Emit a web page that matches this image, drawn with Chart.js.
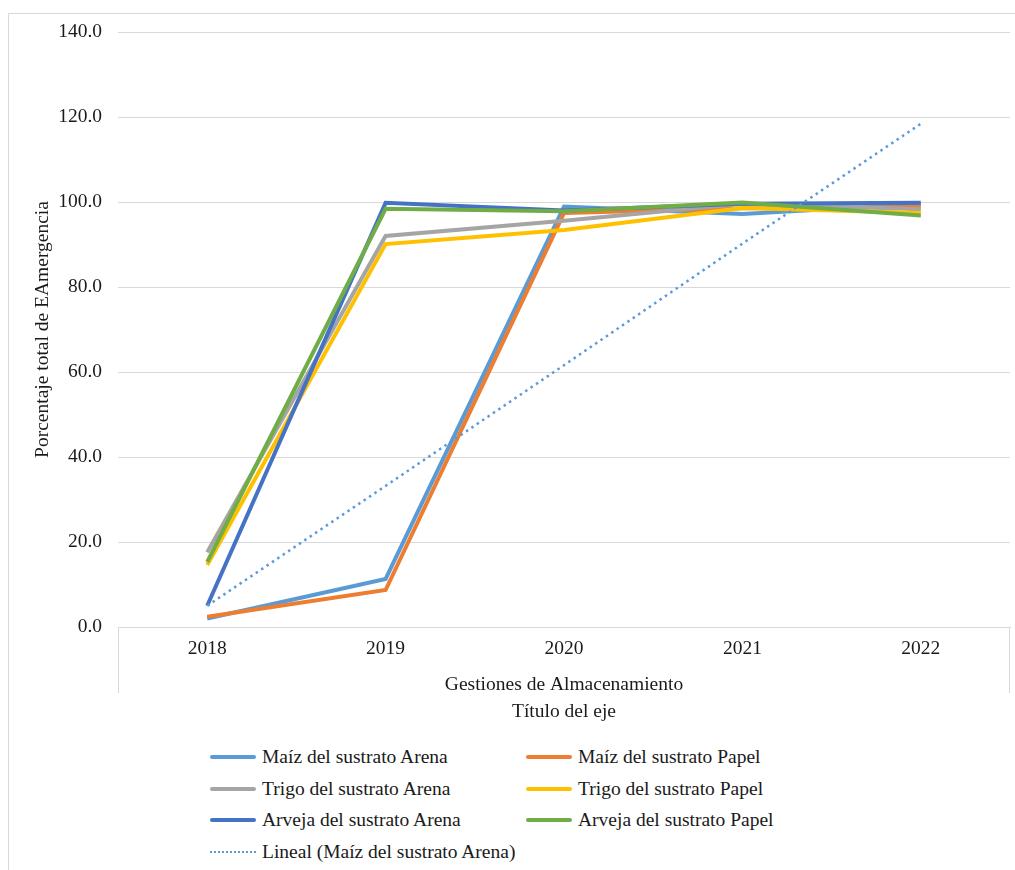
<!DOCTYPE html>
<html>
<head>
<meta charset="utf-8">
<script src="https://cdn.jsdelivr.net/npm/chart.js@4/dist/chart.umd.min.js"></script>
<style>
  body { margin: 0; background: #fff; font-family: "Liberation Serif", "Times New Roman", serif; }
  #frame { position: absolute; left: 8px; top: 13px; width: 1007px; height: 870px; border: 1px solid #d9d9d9; }
  #chartBox { position: absolute; left: 0; top: 0; width: 1007px; height: 720px; }
  #legend { position: absolute; left: 201px; top: 727px; display: grid; grid-template-columns: 316px 300px; grid-auto-rows: 31.7px; }
  .item { display: flex; align-items: center; font-size: 19.5px; color: #1a1a1a; white-space: nowrap; }
  .swatch { display: inline-block; width: 46px; margin-right: 6px; }
</style>
</head>
<body>
<div id="frame">
  <div id="chartBox"><canvas id="myChart"></canvas></div>
  <div id="legend"></div>
</div>
<script>
// categories and values
const years = ['2018', '2019', '2020', '2021', '2022'];
const maizArena = [2.0, 11.3, 98.9, 97.2, 99.5];
const maizPapel = [2.4, 8.7, 97.4, 98.5, 98.8];
const trigoArena = [17.6, 92.0, 95.6, 99.6, 98.3];
const trigoPapel = [14.6, 90.1, 93.4, 98.6, 97.4];
const arvejaArena = [5.0, 99.8, 98.0, 99.6, 99.8];
const arvejaPapel = [15.3, 98.4, 97.8, 99.9, 96.8];
const linealMaizArena = [5.0, 33.2, 61.6, 90.2, 118.4];

const seriesNames = [
  'Maíz del sustrato Arena', 'Maíz del sustrato Papel',
  'Trigo del sustrato Arena', 'Trigo del sustrato Papel',
  'Arveja del sustrato Arena', 'Arveja del sustrato Papel',
  'Lineal (Maíz del sustrato Arena)'
];
const seriesData = [maizArena, maizPapel, trigoArena, trigoPapel, arvejaArena, arvejaPapel, linealMaizArena];
const colors = ['#5B9BD5', '#ED7D31', '#A5A5A5', '#FFC000', '#4472C4', '#70AD47', '#5B9BD5'];

const datasets = seriesData.map((vals, i) => {
  const isTrend = i === 6;
  return {
    label: seriesNames[i],
    data: vals,
    borderColor: colors[i],
    backgroundColor: colors[i],
    borderWidth: isTrend ? 2.5 : 4,
    borderDash: isTrend ? [2.5, 4] : [],
    pointRadius: 0,
    tension: 0,
    fill: false,
    // later series on top, like the spreadsheet
    order: isTrend ? 0 : 7 - i
  };
});

// the two short vertical lines closing the category axis box
const axisBox = {
  id: 'axisBox',
  afterDraw(chart) {
    const { ctx, chartArea } = chart;
    ctx.save();
    ctx.strokeStyle = '#d9d9d9';
    ctx.lineWidth = 1;
    ctx.beginPath();
    ctx.moveTo(chartArea.left + 0.5, chartArea.bottom);
    ctx.lineTo(chartArea.left + 0.5, chartArea.bottom + 66);
    ctx.moveTo(chartArea.right - 0.5, chartArea.bottom);
    ctx.lineTo(chartArea.right - 0.5, chartArea.bottom + 66);
    ctx.stroke();
    ctx.restore();
  }
};

const font = { family: '"Liberation Serif", "Times New Roman", serif', size: 19.5 };

new Chart(document.getElementById('myChart'), {
  type: 'line',
  data: { labels: years, datasets: datasets },
  plugins: [axisBox],
  options: {
    responsive: true,
    maintainAspectRatio: false,
    animation: false,
    layout: { padding: { left: 15, top: 18, right: 6, bottom: 0 } },
    plugins: {
      legend: { display: false },
      tooltip: { enabled: false }
    },
    scales: {
      x: {
        offset: true,
        grid: { display: false, drawTicks: false },
        border: { display: true, color: '#d9d9d9', width: 1 },
        ticks: { font: font, color: '#1a1a1a', padding: 10 },
        title: {
          display: true,
          text: ['Gestiones de Almacenamiento', 'Título del eje'],
          font: { ...font, lineHeight: 1.385 },
          color: '#1a1a1a',
          padding: { top: 0, bottom: 8.5 }
        },
        afterFit: (scale) => { scale.height = 107; }
      },
      y: {
        min: 0,
        max: 140,
        ticks: {
          stepSize: 20,
          font: font,
          color: '#1a1a1a',
          padding: 16,
          callback: (v) => Number(v).toFixed(1)
        },
        grid: { color: '#d9d9d9', drawTicks: false },
        border: { display: false },
        title: {
          display: true,
          text: 'Porcentaje total de EAmergencia',
          font: font,
          color: '#1a1a1a',
          padding: { top: 7, bottom: 7 }
        },
        afterFit: (scale) => {
          scale.width = 94;
          scale.paddingTop = 0;
        }
      }
    }
  }
});

// two-column legend
const legend = document.getElementById('legend');
seriesNames.forEach((name, i) => {
  const item = document.createElement('div');
  item.className = 'item';
  const sw = document.createElement('span');
  sw.className = 'swatch';
  if (i === 6) {
    sw.style.borderTop = '2.5px dotted ' + colors[i];
  } else {
    sw.style.height = '4px';
    sw.style.background = colors[i];
    sw.style.borderRadius = '2px';
  }
  item.appendChild(sw);
  item.appendChild(document.createTextNode(name));
  legend.appendChild(item);
});
</script>
</body>
</html>
